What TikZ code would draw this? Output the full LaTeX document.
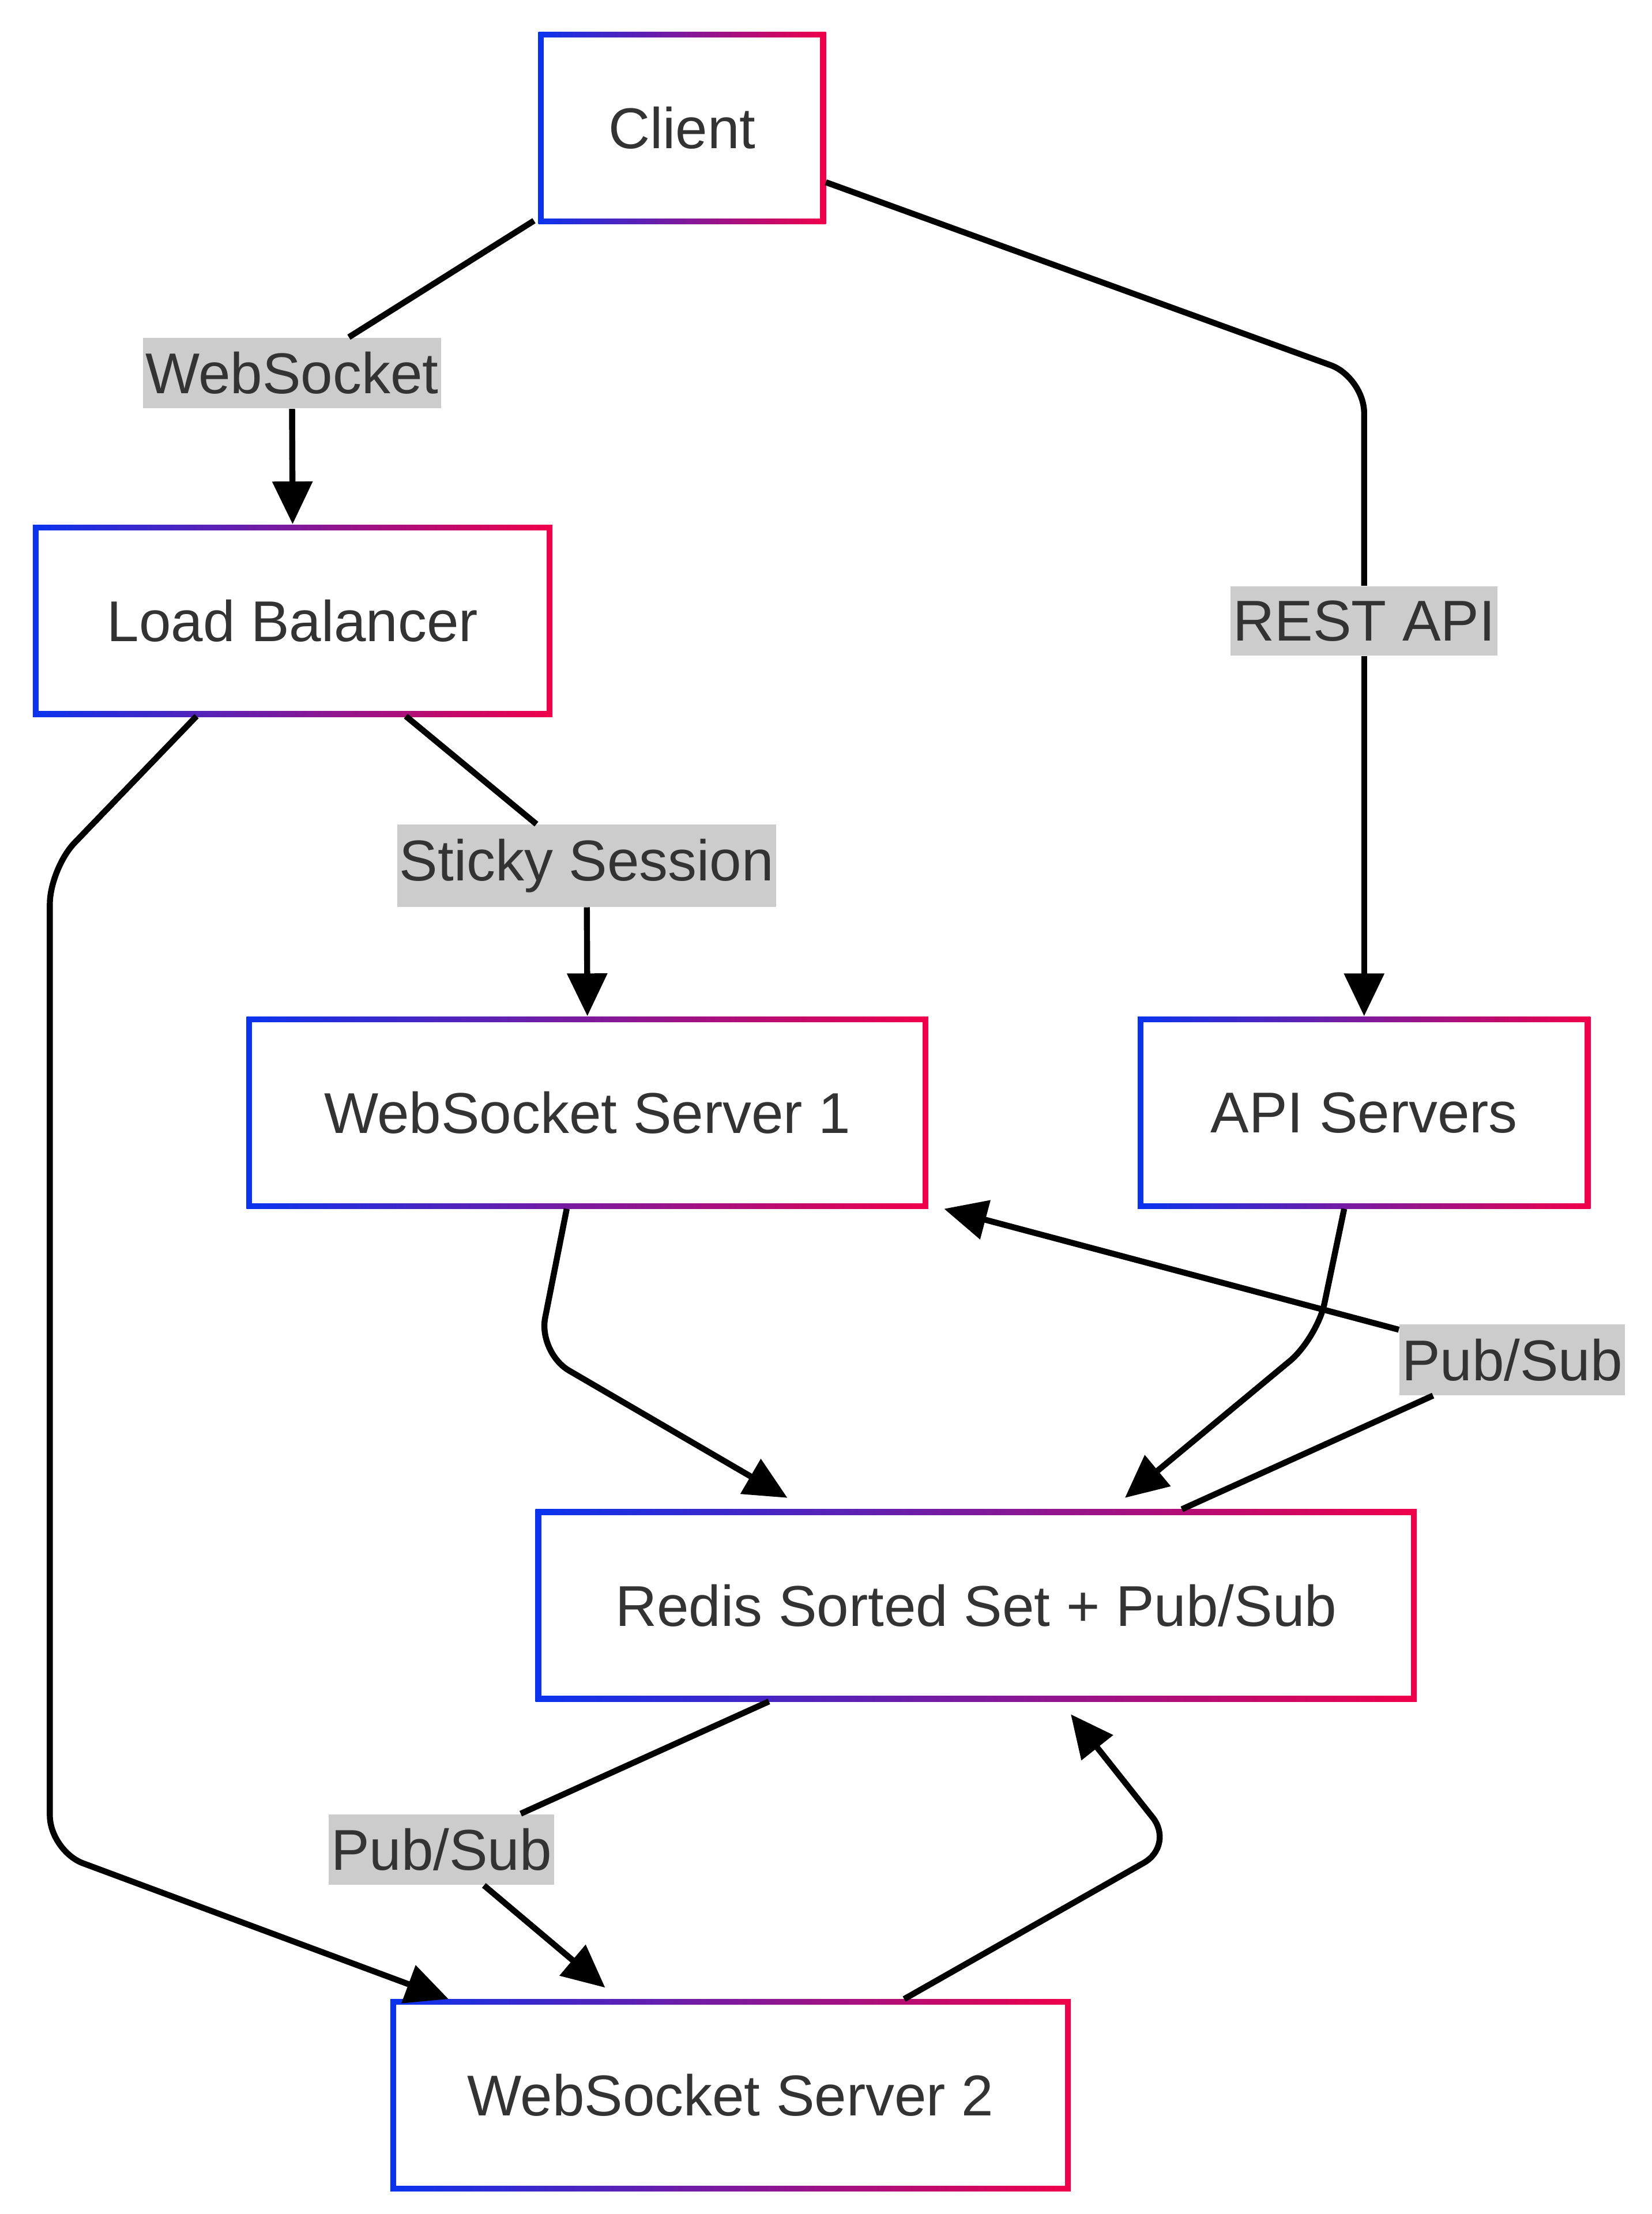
\documentclass[tikz,border=0pt]{standalone}
\usepackage{fontspec}
\setmainfont{Liberation Sans}
\usetikzlibrary{arrows.meta}
\definecolor{gblue}{HTML}{0A33EE}
\definecolor{gred}{HTML}{F0004A}
\definecolor{txt}{HTML}{333333}
\definecolor{lbl}{HTML}{CCCCCC}
\tikzset{
  box/.style={minimum height=2.7cm,inner sep=0pt,text=txt,font=\fontsize{23}{27}\selectfont,
    path picture={\shade[left color=gblue,right color=gred]
      (path picture bounding box.south west) rectangle (path picture bounding box.north east);
      \fill[white] ([shift={(0.08cm,0.08cm)}]path picture bounding box.south west)
      rectangle ([shift={(-0.08cm,-0.08cm)}]path picture bounding box.north east);}},
  lab/.style={fill=lbl,text=txt,inner xsep=1pt,inner ysep=0.2cm,font=\fontsize{23}{27}\selectfont},
  conn/.style={line width=2.4pt,rounded corners=0.5cm},
  arr/.style={conn,-{Triangle[length=0.6cm,width=0.55cm]}},
}
\begin{document}
\begin{tikzpicture}[x=0.02cm,y=-0.02cm]
\useasboundingbox (0,0) rectangle (1160,1555);
% boxes
\node[box,minimum width=4.04cm] (client) at (479,90) {Client};
\node[box,minimum width=7.3cm] (lb) at (205.5,436) {Load Balancer};
\node[box,minimum width=9.58cm] (ws1) at (412.5,781.5) {WebSocket Server 1};
\node[box,minimum width=6.36cm] (api) at (958,781.5) {API Servers};
\node[box,minimum width=12.38cm] (redis) at (685.5,1127.5) {Redis Sorted Set + Pub/Sub};
\node[box,minimum width=9.56cm] (ws2) at (513,1471.5) {WebSocket Server 2};
% labels
\node[lab] (lws) at (205,262) {WebSocket};
\node[lab] (lrest) at (958,436) {REST API};
\node[lab] (lsticky) at (412,608) {Sticky Session};
\node[lab] (lps1) at (1062,955) {Pub/Sub};
\node[lab] (lps2) at (310,1299) {Pub/Sub};
% connectors
\draw[conn] (375,155) -- (lws);
\draw[arr] (lws) -- (lb.north);
\draw[conn] (580,128) -- (958,265) -- (lrest);
\draw[arr] (lrest) -- (api.north);
\draw[conn] (285,503) -- (lsticky);
\draw[arr] (lsticky) -- (ws1.north);
\draw[arr] (138,503) -- (35,610) -- (35,1300) -- (315,1404);
\draw[arr] (398,849) -- (378,950) -- (553,1052);
\draw[arr] (944,849) -- (925,940) -- (790,1052);
\draw[conn] (830,1060) -- (lps1);
\draw[arr] (lps1) -- (663,849);
\draw[conn] (540,1195) -- (lps2);
\draw[arr] (lps2) -- (425,1396);
\draw[arr] (635,1404) -- (825,1296) -- (752,1204);
\end{tikzpicture}
\end{document}
